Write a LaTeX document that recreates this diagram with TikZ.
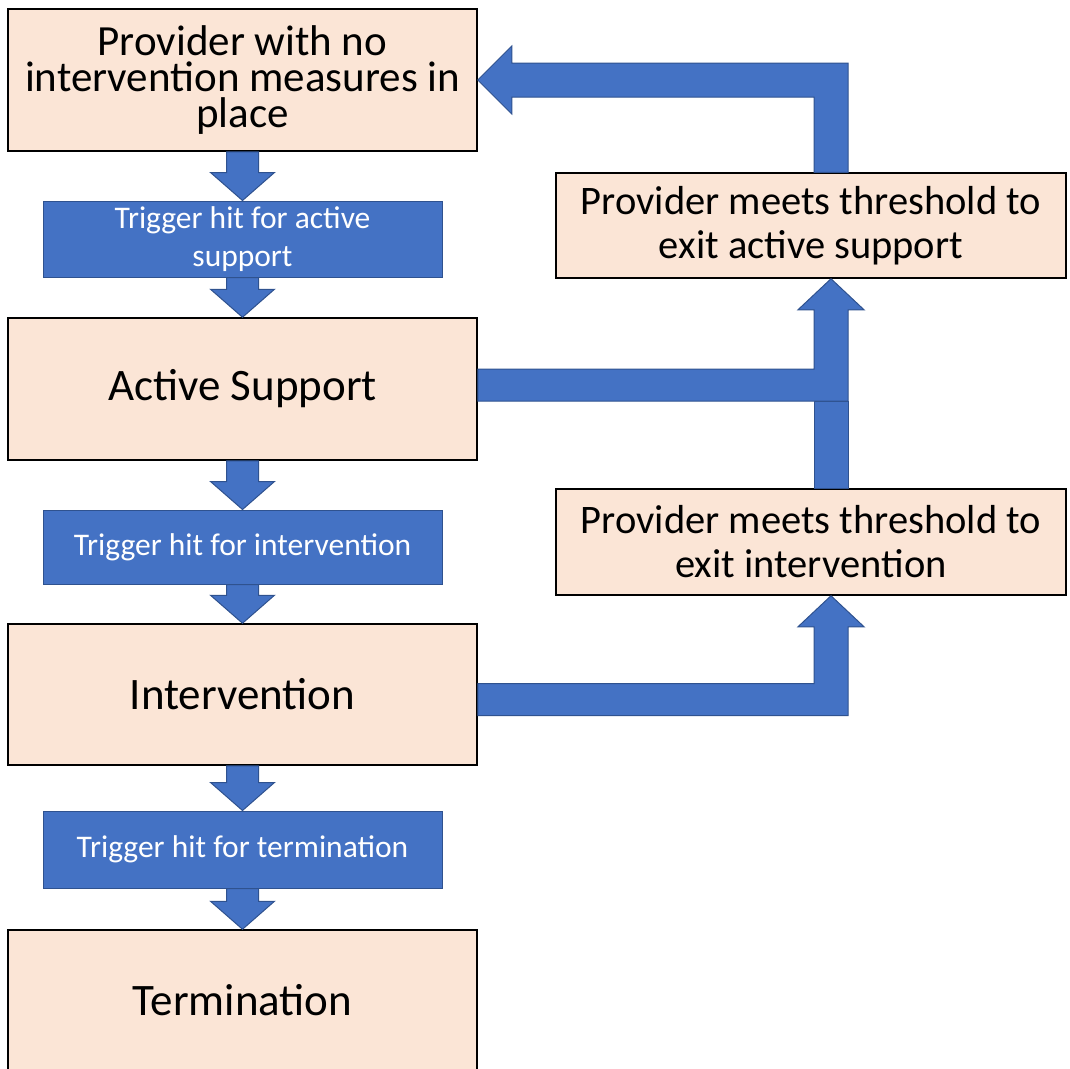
\documentclass[tikz,border=0pt]{standalone}
\usepackage{fontspec}
\setmainfont{Carlito}
\usetikzlibrary{calc}
\definecolor{peach}{HTML}{FBE5D6}
\definecolor{officeblue}{HTML}{4472C4}
\definecolor{blueedge}{HTML}{2F528F}
\tikzset{
  stage/.style={draw=black, line width=1.5pt, fill=peach, align=center, inner sep=0pt,
    minimum width=469pt, minimum height=142pt, font=\fontsize{45}{50}\selectfont},
  trigger/.style={draw=blueedge, line width=1pt, fill=officeblue, text=white, align=center,
    inner sep=0pt, minimum width=399pt, minimum height=76pt, font=\fontsize{31.5}{38}\selectfont},
  exitbox/.style={stage, minimum width=510pt, minimum height=105pt, font=\fontsize{40.5}{44}\selectfont},
  blockarrow/.style={draw=blueedge, line width=1pt, fill=officeblue, line join=miter}
}
\begin{document}
\begin{tikzpicture}[x=1pt, y=-1pt]
  \useasboundingbox (0,0) rectangle (1070,1068);
  % left column
  \node[stage, font=\fontsize{43}{36}\selectfont] (prov) at (242.5,80) {Provider with no\\intervention measures in\\place};
  \node[trigger] (trigA) at (242.5,239) {Trigger hit for active\\support};
  \node[stage] (active) at (242.5,389) {Active Support};
  \node[trigger, minimum height=74pt] (trigB) at (242.5,547) {Trigger hit for intervention};
  \node[stage, minimum height=141pt] (interv) at (242.5,694.5) {Intervention};
  \node[trigger, minimum height=77pt] (trigC) at (242.5,849.5) {Trigger hit for termination};
  \node[stage, minimum height=140pt] (term) at (242.5,1000) {Termination};
  % right column
  \node[exitbox] (exitA) at (811,225.5) {Provider meets threshold to\\exit active support};
  \node[exitbox, minimum height=106pt] (exitB) at (811,542) {Provider meets threshold to\\exit intervention};
  \coordinate (riseL) at ($(exitA.north)+(3,0)$);
  \coordinate (riseR) at ($(exitA.north)+(37,0)$);
  % arrows down the left column
  \foreach \a/\b in {prov/trigA, trigA/active, active/trigB, trigB/interv, interv/trigC, trigC/term}
    \draw[blockarrow] ($(\a.south)+(-16,0)$) -- ($(\b.north)+(-16,-28)$) -- ++(-16,0) -- (\b.north)
      -- ($(\b.north)+(32,-28)$) -- ++(-16,0) -- ($(\a.south)+(16,0)$) -- cycle;
  % back to the start
  \draw[blockarrow] (riseL) |- ($(prov.east)+(34,17)$) -- ++(0,17) -- (prov.east)
    -- ($(prov.east)+(34,-34)$) -- ++(0,17) -| (riseR) -- cycle;
  % active support -> exit
  \draw[blockarrow] (riseL |- exitB.north) rectangle ($(riseR |- active.east)+(0,12)$);
  \draw[blockarrow] ($(active.east)+(0,12)$) -| ($(exitA.south)+(37,31)$) -- ++(16,0) -- ($(exitA.south)+(20,0)$)
    -- ($(exitA.south)+(-13,31)$) -- ++(16,0) |- ($(active.east)+(0,-20)$) -- cycle;
  % intervention -> exit
  \draw[blockarrow] ($(interv.east)+(0,21)$) -| ($(exitB.south)+(37,31)$) -- ++(16,0) -- ($(exitB.south)+(20,0)$)
    -- ($(exitB.south)+(-13,31)$) -- ++(16,0) |- ($(interv.east)+(0,-11)$) -- cycle;
\end{tikzpicture}
\end{document}
